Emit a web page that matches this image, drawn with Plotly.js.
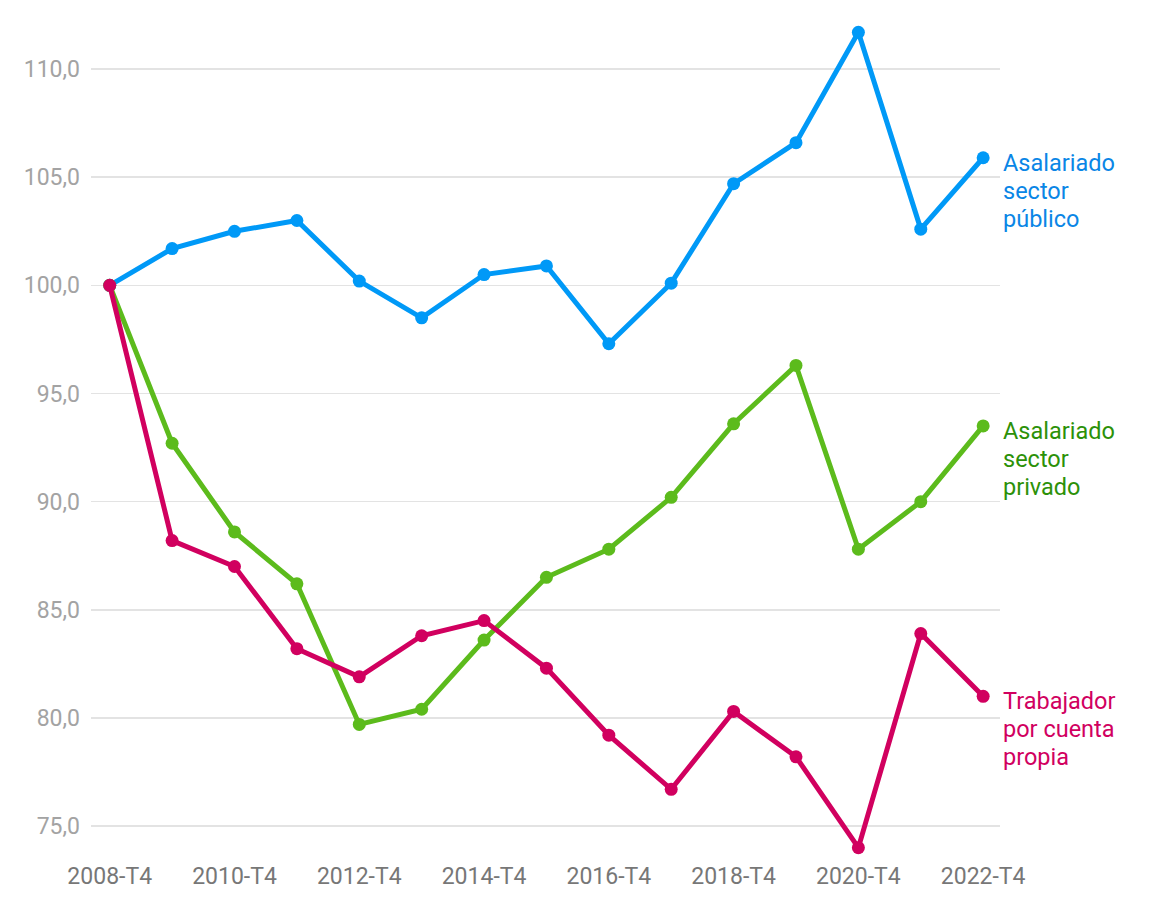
<!DOCTYPE html>
<html>
<head>
<meta charset="utf-8">
<script src="https://cdn.plot.ly/plotly-3.0.1.min.js"></script>
<style>
  html, body { margin: 0; padding: 0; background: #fff; }
  #chart { width: 1156px; height: 908px; }
</style>
</head>
<body>
<div id="chart"></div>
<script>
var periods = ['2008-T4', '2009-T4', '2010-T4', '2011-T4', '2012-T4', '2013-T4', '2014-T4',
  '2015-T4', '2016-T4', '2017-T4', '2018-T4', '2019-T4', '2020-T4', '2021-T4', '2022-T4'];
var tickPeriods = ['2008-T4', '2010-T4', '2012-T4', '2014-T4', '2016-T4', '2018-T4', '2020-T4', '2022-T4'];

var publico = [100.0, 101.7, 102.5, 103.0, 100.2, 98.5, 100.5, 100.9, 97.3, 100.1, 104.7, 106.6, 111.7, 102.6, 105.9];
var privado = [100.0, 92.7, 88.6, 86.2, 79.7, 80.4, 83.6, 86.5, 87.8, 90.2, 93.6, 96.3, 87.8, 90.0, 93.5];
var propia = [100.0, 88.2, 87.0, 83.2, 81.9, 83.8, 84.5, 82.3, 79.2, 76.7, 80.3, 78.2, 74.0, 83.9, 81.0];

var seriesLabels = [
  ['Asalariado', 'sector', 'público'],
  ['Asalariado', 'sector', 'privado'],
  ['Trabajador', 'por cuenta', 'propia'],
];
var lineColors = ['#0099f7', '#5cbb1c', '#d1005f'];
var labelColors = ['#0a86e6', '#2c9108', '#d1005f'];

var allSeries = [publico, privado, propia];

// pink line is drawn last so its first marker sits on top
var data = allSeries.map(function(values, i) {
  return {
    name: seriesLabels[i].join(' '),
    x: periods,
    y: values,
    type: 'scatter',
    mode: 'lines+markers',
    line: { color: lineColors[i], width: 5 },
    marker: { color: lineColors[i], size: 13 },
    hoverinfo: 'x+y',
  };
});

// end labels, one annotation per text line so the line spacing can be set
var annotations = [];
allSeries.forEach(function(values, i) {
  seriesLabels[i].forEach(function(line, k) {
    annotations.push({
      x: periods[periods.length - 1],
      y: values[values.length - 1],
      xref: 'x',
      yref: 'y',
      text: line,
      showarrow: false,
      xanchor: 'left',
      yanchor: 'middle',
      align: 'left',
      xshift: 18,
      yshift: -(5 + 28 * k),
      font: { family: 'Roboto', size: 23.5, color: labelColors[i] },
    });
  });
});

var layout = {
  width: 1156,
  height: 908,
  margin: { l: 91, r: 156, t: 20, b: 48 },
  paper_bgcolor: '#ffffff',
  plot_bgcolor: '#ffffff',
  showlegend: false,
  separators: ',.',
  font: { family: 'Roboto', size: 23, color: '#777777' },
  xaxis: {
    type: 'category',
    range: [-0.3, 14.27],
    tickmode: 'array',
    tickvals: tickPeriods,
    ticktext: tickPeriods,
    showgrid: false,
    zeroline: false,
    showline: false,
    ticks: '',
    ticklabelstandoff: 0,
    tickfont: { family: 'Roboto', size: 23, color: '#777777' },
  },
  yaxis: {
    range: [73.43, 112.27],
    tickmode: 'array',
    tickvals: [75, 80, 85, 90, 95, 100, 105, 110],
    tickformat: '.1f',
    showgrid: true,
    gridcolor: '#e3e3e3',
    gridwidth: 1.5,
    zeroline: false,
    showline: false,
    ticks: '',
    ticklabelstandoff: 10,
    tickfont: { family: 'Roboto', size: 23, color: '#a3a3a3' },
  },
  annotations: annotations,
};

Plotly.newPlot('chart', data, layout, { displayModeBar: false, staticPlot: true });
</script>
</body>
</html>
